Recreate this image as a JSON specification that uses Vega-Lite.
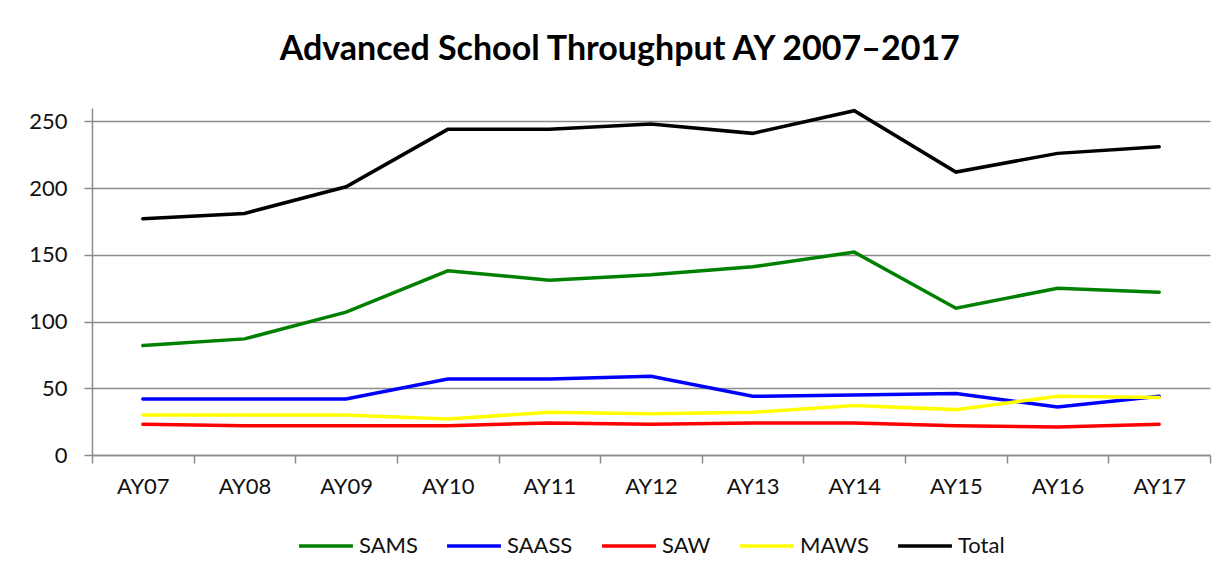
{
  "$schema": "https://vega.github.io/schema/vega-lite/v6.json",
  "width": 1118,
  "height": 347,
  "autosize": {"type": "none"},
  "padding": {"left": 92, "top": 108, "right": 20, "bottom": 125},
  "background": "white",
  "title": {
    "text": "Advanced School Throughput AY 2007–2017",
    "font": "Lato",
    "fontSize": 34,
    "fontWeight": "bold",
    "color": "#000000",
    "anchor": "middle",
    "frame": "bounds",
    "offset": 37
  },
  "data": {
    "values": [
      {"year": "AY07", "series": "SAMS", "value": 82},
      {"year": "AY08", "series": "SAMS", "value": 87},
      {"year": "AY09", "series": "SAMS", "value": 107},
      {"year": "AY10", "series": "SAMS", "value": 138},
      {"year": "AY11", "series": "SAMS", "value": 131},
      {"year": "AY12", "series": "SAMS", "value": 135},
      {"year": "AY13", "series": "SAMS", "value": 141},
      {"year": "AY14", "series": "SAMS", "value": 152},
      {"year": "AY15", "series": "SAMS", "value": 110},
      {"year": "AY16", "series": "SAMS", "value": 125},
      {"year": "AY17", "series": "SAMS", "value": 122},
      {"year": "AY07", "series": "SAASS", "value": 42},
      {"year": "AY08", "series": "SAASS", "value": 42},
      {"year": "AY09", "series": "SAASS", "value": 42},
      {"year": "AY10", "series": "SAASS", "value": 57},
      {"year": "AY11", "series": "SAASS", "value": 57},
      {"year": "AY12", "series": "SAASS", "value": 59},
      {"year": "AY13", "series": "SAASS", "value": 44},
      {"year": "AY14", "series": "SAASS", "value": 45},
      {"year": "AY15", "series": "SAASS", "value": 46},
      {"year": "AY16", "series": "SAASS", "value": 36},
      {"year": "AY17", "series": "SAASS", "value": 44},
      {"year": "AY07", "series": "SAW", "value": 23},
      {"year": "AY08", "series": "SAW", "value": 22},
      {"year": "AY09", "series": "SAW", "value": 22},
      {"year": "AY10", "series": "SAW", "value": 22},
      {"year": "AY11", "series": "SAW", "value": 24},
      {"year": "AY12", "series": "SAW", "value": 23},
      {"year": "AY13", "series": "SAW", "value": 24},
      {"year": "AY14", "series": "SAW", "value": 24},
      {"year": "AY15", "series": "SAW", "value": 22},
      {"year": "AY16", "series": "SAW", "value": 21},
      {"year": "AY17", "series": "SAW", "value": 23},
      {"year": "AY07", "series": "MAWS", "value": 30},
      {"year": "AY08", "series": "MAWS", "value": 30},
      {"year": "AY09", "series": "MAWS", "value": 30},
      {"year": "AY10", "series": "MAWS", "value": 27},
      {"year": "AY11", "series": "MAWS", "value": 32},
      {"year": "AY12", "series": "MAWS", "value": 31},
      {"year": "AY13", "series": "MAWS", "value": 32},
      {"year": "AY14", "series": "MAWS", "value": 37},
      {"year": "AY15", "series": "MAWS", "value": 34},
      {"year": "AY16", "series": "MAWS", "value": 44},
      {"year": "AY17", "series": "MAWS", "value": 43},
      {"year": "AY07", "series": "Total", "value": 177},
      {"year": "AY08", "series": "Total", "value": 181},
      {"year": "AY09", "series": "Total", "value": 201},
      {"year": "AY10", "series": "Total", "value": 244},
      {"year": "AY11", "series": "Total", "value": 244},
      {"year": "AY12", "series": "Total", "value": 248},
      {"year": "AY13", "series": "Total", "value": 241},
      {"year": "AY14", "series": "Total", "value": 258},
      {"year": "AY15", "series": "Total", "value": 212},
      {"year": "AY16", "series": "Total", "value": 226},
      {"year": "AY17", "series": "Total", "value": 231}
    ]
  },
  "mark": {"type": "line", "strokeWidth": 3.5, "strokeCap": "round", "strokeJoin": "miter"},
  "encoding": {
    "x": {
      "field": "year",
      "type": "ordinal",
      "bandPosition": 0.5,
      "scale": {"type": "band", "paddingInner": 0, "paddingOuter": 0},
      "axis": {
        "title": null,
        "labelAngle": 0,
        "tickBand": "extent",
        "labelFont": "Lato",
        "labelFontSize": 22,
        "labelColor": "#111111",
        "labelPadding": 13,
        "domainColor": "#8c8c8c",
        "domainWidth": 1.5,
        "tickColor": "#8c8c8c",
        "tickWidth": 1.5,
        "tickSize": 8,
        "grid": false
      }
    },
    "y": {
      "field": "value",
      "type": "quantitative",
      "scale": {"domain": [0, 260], "nice": false},
      "axis": {
        "title": null,
        "values": [0, 50, 100, 150, 200, 250],
        "labelFont": "Lato",
        "labelFontSize": 22,
        "labelColor": "#111111",
        "labelPadding": 17,
        "domainColor": "#8c8c8c",
        "domainWidth": 1.5,
        "tickColor": "#8c8c8c",
        "tickWidth": 1.5,
        "tickSize": 8,
        "grid": true,
        "gridColor": "#8c8c8c",
        "gridWidth": 1.5
      }
    },
    "color": {
      "field": "series",
      "type": "nominal",
      "scale": {
        "domain": ["SAMS", "SAASS", "SAW", "MAWS", "Total"],
        "range": ["#008000", "#0000FF", "#FF0000", "#FFFF00", "#000000"]
      },
      "legend": {
        "title": null,
        "orient": "bottom",
        "direction": "horizontal",
        "symbolType": "stroke",
        "symbolSize": 2900,
        "symbolStrokeWidth": 3.5,
        "labelFont": "Lato",
        "labelFontSize": 22,
        "labelColor": "#111111",
        "labelOffset": 4,
        "columnPadding": 22,
        "offset": 20
      }
    }
  },
  "config": {
    "view": {"stroke": null},
    "legend": {"layout": {"bottom": {"anchor": "middle"}}}
  }
}
